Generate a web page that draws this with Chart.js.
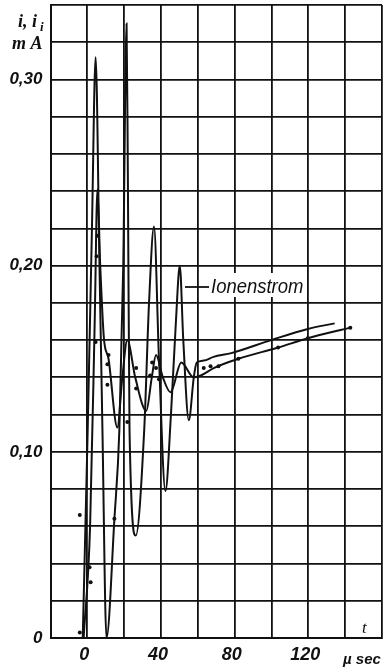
<!DOCTYPE html>
<html>
<head>
<meta charset="utf-8">
<script src="https://cdn.jsdelivr.net/npm/chart.js@4.4.0/dist/chart.umd.min.js"></script>
<style>
    html, body { margin: 0; padding: 0; background: #fff; overflow: hidden; }
    #wrap { width: 386px; height: 667px; }
</style>
</head>
<body>
<div id="wrap"><canvas id="chart" width="386" height="667"></canvas></div>
<script>
// time in µsec, current in mA
const tIonen = [-2.5, 0.2, 2.5, 4.5, 6.6, 8.2, 10.4, 14.7, 17.4, 19.5, 21.3, 22.0, 22.9, 26.3, 30.9, 33.5, 36.2, 38.9, 42.4, 45.4, 48.1, 50.2, 52.1, 55.1, 57.8, 59.4, 63.2, 68.5, 78.2, 99.8, 119.7, 134.3];
const iIonen = [0, 0.112, 0.22, 0.312, 0.2, 0.112, 0, 0.064, 0.112, 0.2, 0.330, 0.25, 0.112, 0.055, 0.112, 0.18, 0.221, 0.15, 0.079, 0.12, 0.17, 0.200, 0.16, 0.117, 0.140, 0.148, 0.149, 0.151, 0.153, 0.160, 0.166, 0.169];

const tGesamt = [-2, 1.5, 4, 5.5, 7, 9, 11.5, 16.3, 19, 21.7, 26, 32, 35, 37.3, 41, 45.2, 51, 57.8, 61.6, 68.6, 82, 103.6, 119.7, 142.8];
const iGesamt = [0, 0.06, 0.17, 0.241, 0.20, 0.161, 0.150, 0.113, 0.14, 0.160, 0.14, 0.122, 0.14, 0.152, 0.14, 0.132, 0.148, 0.140, 0.141, 0.145, 0.150, 0.156, 0.161, 0.1667];

// measured points (dots)
const tPunkte = [-4.1, -4.1, 1.2, 1.8, 5.0, 5.5, 4.5, 11.5, 10.9, 10.9, 14.7, 21.7, 26.5, 26.5, 34.1, 35.2, 37.3, 38.9, 63.2, 66.9, 71.2, 82, 103.6, 119.7, 142.8];
const iPunkte = [0.003, 0.066, 0.038, 0.030, 0.205, 0.216, 0.159, 0.152, 0.147, 0.136, 0.064, 0.116, 0.145, 0.134, 0.141, 0.148, 0.145, 0.139, 0.145, 0.146, 0.146, 0.150, 0.156, 0.161, 0.1667];

const xTickValues = [0, 40, 80, 120];
const xTickLabels = ['0', '40', '80', '120'];
const yTickValues = [0, 0.1, 0.2, 0.3];
const yTickLabels = ['0', '0,10', '0,20', '0,30'];

function toPoints(xs, ys) {
    return xs.map((x, i) => ({ x: x, y: ys[i] }));
}

function tickLabel(values, labels, v) {
    const idx = values.findIndex(tv => Math.abs(tv - v) < 1e-6);
    return idx >= 0 ? labels[idx] : '';
}

// no extra padding from the tick labels, the plot box is set by layout padding
function noPadding(scale) {
    scale.paddingTop = 0;
    scale.paddingBottom = 0;
    scale.paddingLeft = 0;
    scale.paddingRight = 0;
}

// extra texts: axis titles and the curve label
const textPlugin = {
    id: 'texte',
    afterDatasetsDraw(chart) {
        const ctx = chart.ctx;
        ctx.save();
        ctx.fillStyle = '#111';
        ctx.textBaseline = 'alphabetic';

        ctx.font = 'italic bold 18px "Liberation Serif"';
        ctx.fillText('i, i', 18, 27);
        ctx.font = 'italic bold 13px "Liberation Serif"';
        ctx.fillText('i', 40, 31);
        ctx.font = 'italic bold 18px "Liberation Serif"';
        ctx.fillText('m A', 12, 49);

        // label box for the ion current
        ctx.fillStyle = '#fff';
        ctx.fillRect(207, 273, 100, 24);
        ctx.strokeStyle = '#111';
        ctx.lineWidth = 1.8;
        ctx.beginPath();
        ctx.moveTo(185, 287);
        ctx.lineTo(209, 287);
        ctx.stroke();
        ctx.fillStyle = '#111';
        ctx.save();
        ctx.translate(211, 293);
        ctx.scale(0.88, 1);
        ctx.font = 'italic 21px "Liberation Sans"';
        ctx.fillText('Ionenstrom', 0, 0);
        ctx.restore();

        ctx.font = 'italic 17px "Liberation Serif"';
        ctx.fillText('t', 362, 633);
        ctx.font = 'italic bold 15px "Liberation Sans"';
        ctx.fillText('\u00b5 sec', 343, 664);
        ctx.restore();
    }
};

const ctx = document.getElementById('chart').getContext('2d');
const chart = new Chart(ctx, {
    type: 'line',
    data: {
        datasets: [{
            label: 'Ionenstrom',
            data: toPoints(tIonen, iIonen),
            borderColor: '#111',
            borderWidth: 2,
            pointRadius: 0,
            cubicInterpolationMode: 'monotone',
            fill: false
        }, {
            label: 'i',
            data: toPoints(tGesamt, iGesamt),
            borderColor: '#111',
            borderWidth: 2,
            pointRadius: 0,
            cubicInterpolationMode: 'monotone',
            fill: false
        }, {
            label: 'Messpunkte',
            data: toPoints(tPunkte, iPunkte),
            showLine: false,
            pointRadius: 2,
            pointBackgroundColor: '#111',
            pointBorderWidth: 0
        }]
    },
    options: {
        responsive: false,
        animation: false,
        layout: { padding: { top: 5, right: 1, left: 0, bottom: 0 } },
        plugins: {
            legend: { display: false },
            tooltip: { enabled: false }
        },
        scales: {
            x: {
                type: 'linear',
                min: -20,
                max: 160,
                grid: { color: '#111', lineWidth: 1.8, drawTicks: false },
                border: { color: '#111', width: 2 },
                ticks: {
                    stepSize: 20,
                    autoSkip: false,
                    maxRotation: 0,
                    padding: 6,
                    labelOffset: -3,
                    color: '#111',
                    font: { family: 'Liberation Sans', size: 18, style: 'italic', weight: 'bold' },
                    callback: v => tickLabel(xTickValues, xTickLabels, v)
                },
                afterFit: scale => { scale.height = 29; noPadding(scale); }
            },
            y: {
                min: 0,
                max: 0.34,
                grid: { color: '#111', lineWidth: 1.8, drawTicks: false },
                border: { color: '#111', width: 2 },
                ticks: {
                    stepSize: 0.02,
                    autoSkip: false,
                    padding: 8,
                    color: '#111',
                    font: { family: 'Liberation Sans', size: 17, style: 'italic', weight: 'bold' },
                    callback: v => tickLabel(yTickValues, yTickLabels, v)
                },
                afterFit: scale => { scale.width = 50.5; noPadding(scale); }
            }
        }
    },
    plugins: [textPlugin]
});
</script>
</body>
</html>
